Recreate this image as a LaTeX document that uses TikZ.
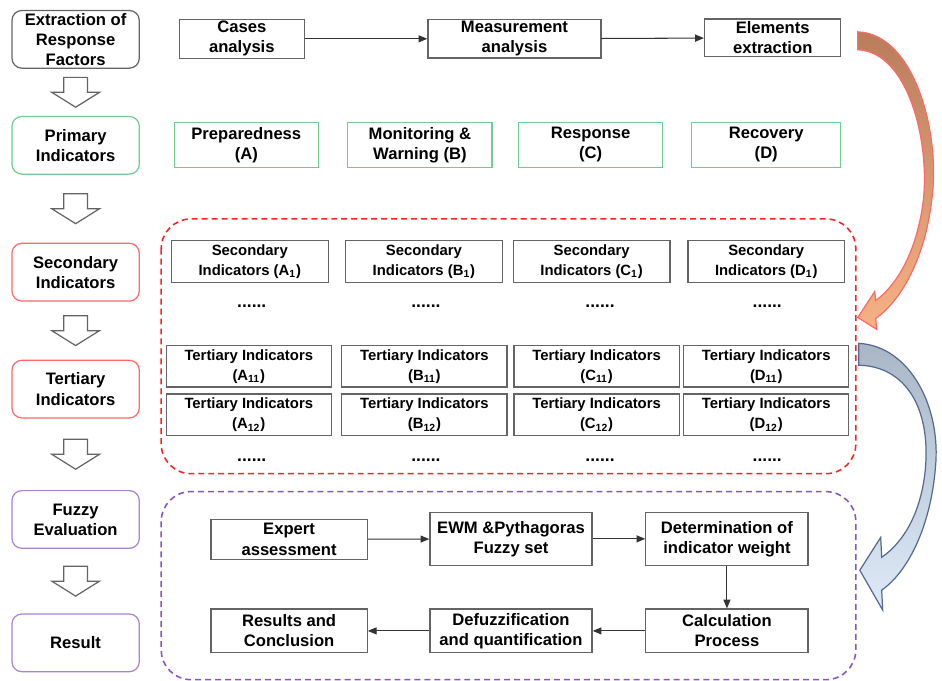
\documentclass[tikz,border=0pt]{standalone}
\usepackage{fontspec}
\setmainfont{Liberation Sans}
\usetikzlibrary{arrows.meta,positioning,calc}
\definecolor{framegray}{RGB}{100,100,100}
\definecolor{stagegreen}{RGB}{110,205,145}
\definecolor{stagered}{RGB}{255,105,105}
\definecolor{stagepurple}{RGB}{170,130,210}
\definecolor{dashred}{RGB}{250,35,35}
\definecolor{dashpurple}{RGB}{135,85,195}
\definecolor{brownarr}{RGB}{185,125,92}
\definecolor{orangearr}{RGB}{246,178,132}
\definecolor{slatearr}{RGB}{168,182,198}
\definecolor{skyarr}{RGB}{222,234,247}
\definecolor{slateline}{RGB}{85,105,145}

\begin{document}
\begin{tikzpicture}[
    x=0.02cm, y=-0.02cm,
    >={Triangle[length=5pt,width=4pt]},
    stage/.style={draw=#1, line width=0.7pt, rounded corners=0.2cm, fill=white, align=center, font=\fontsize{9.5}{11.5}\selectfont\bfseries, minimum width=2.56cm, minimum height=1.16cm, inner sep=1pt},
    box/.style={draw=framegray, line width=0.7pt, fill=white, align=center, font=\fontsize{9.5}{11.5}\selectfont\bfseries, inner sep=1pt},
    sbox/.style={box, font=\fontsize{8.5}{11.5}\selectfont\bfseries},
    pbox/.style={box, draw=stagegreen, minimum width=2.9cm, minimum height=0.9cm},
    dots/.style={font=\fontsize{10}{10}\selectfont\bfseries, inner sep=0pt},
    flow/.style={->, line width=0.6pt, black!80},
    hollow/.style={draw=framegray, line width=0.7pt, fill=white, line join=miter},
    region/.style={dashed, dash pattern=on 3.4pt off 2.3pt, line width=0.9pt, rounded corners=0.6cm}
]
    % Left column
    \node[stage=framegray] (extr) at (76,39.5) {Extraction of\\Response\\Factors};
    \node[stage=stagegreen] (prim) at (76,146) {Primary\\Indicators};
    \node[stage=stagered] (secd) at (76,273.5) {Secondary\\Indicators};
    \node[stage=stagered] (tert) at (76,391) {Tertiary\\Indicators};
    \node[stage=stagepurple] (fuzz) at (76,522) {Fuzzy\\Evaluation};
    \node[stage=stagepurple] (rslt) at (76,646) {Result};

    \foreach \a/\b in {extr/prim,prim/secd,secd/tert,tert/fuzz,fuzz/rslt}
        \draw[hollow] ($(\a.south)!0.5!(\b.north)$) ++(-12,-15) -- ++(24,0) -- ++(0,15) -- ++(12,0) -- ++(-24,15) -- ++(-24,-15) -- ++(12,0) -- cycle;

    % Extraction row
    \node[box, minimum width=2.52cm, minimum height=0.76cm] (cases) at (243,39) {Cases\\analysis};
    \node[box, minimum width=3.48cm, minimum height=0.76cm] (meas) at (517,39) {Measurement\\analysis};
    \node[box, minimum width=2.74cm, minimum height=0.76cm] (elem) at (776.5,38) {Elements\\extraction};
    \draw[flow] (cases) -- (meas);
    \draw[flow] (meas) -- (elem);

    % Primary indicators
    \node[pbox] (prep) at (247.5,145.5) {Preparedness\\(A)};
    \node[pbox] (moni) at (422,145.5) {Monitoring \&\\Warning (B)};
    \node[pbox] (resp) at (593.5,145.5) {Response\\(C)};
    \node[pbox, minimum width=3cm] (reco) at (770,145.5) {Recovery\\(D)};

    % Secondary and tertiary indicators
    \draw[region, draw=dashred] (162,220) rectangle (860,476);
    \foreach \c/\x/\xs/\xt in {A/251/253/250, B/426/428/426.5, C/594.5/603/599.5, D/770/771/770} {
        \node[sbox, minimum width=3.15cm, minimum height=0.84cm] (sec\c) at (\x,263) {Secondary\\Indicators (\c\textsubscript{1})};
        \node[dots] (dsec\c) at (\xs,308) {......};
        \node[sbox, minimum width=3.32cm, minimum height=0.84cm] (ter\c a) at (\xt,368) {Tertiary Indicators\\(\c\textsubscript{11})};
        \node[sbox, minimum width=3.32cm, minimum height=0.84cm] (ter\c b) at (\xt,417) {Tertiary Indicators\\(\c\textsubscript{12})};
        \node[dots] (dter\c) at (\xs,462) {......};
    }

    % Fuzzy evaluation
    \draw[region, draw=dashpurple] (162,494) rectangle (860,683);
    \node[box, minimum width=3.14cm, minimum height=0.8cm] (expert) at (290.5,542) {Expert\\assessment};
    \node[box, minimum width=3.26cm, minimum height=1.06cm] (ewm) at (513.5,541.5) {EWM \&Pythagoras\\Fuzzy set};
    \node[box, minimum width=3.26cm, minimum height=1.06cm] (weight) at (730.5,541.5) {Determination of\\indicator weight};
    \node[box, minimum width=3.26cm, minimum height=0.88cm] (calc) at (730.5,634) {Calculation\\Process};
    \node[box, minimum width=3.26cm, minimum height=0.88cm] (defuzz) at (513.5,634) {Defuzzification\\and quantification};
    \node[box, minimum width=3.14cm, minimum height=0.88cm] (concl) at (290.5,634) {Results and\\Conclusion};
    \draw[flow] (expert) -- (ewm);
    \draw[flow] (ewm) -- (weight);
    \draw[flow] (weight) -- (calc);
    \draw[flow] (calc) -- (defuzz);
    \draw[flow] (defuzz) -- (concl);

    % Curved block arrows
    \path[draw=stagered, line width=0.7pt, top color=brownarr, bottom color=orangearr]
        (862,32) .. controls (918,34) and (944,130) .. (937,195)
        .. controls (931,255) and (908,300) .. (880,320)
        -- (881,331) -- (862,319) -- (879,293) -- (880,302)
        .. controls (903,285) and (922,250) .. (928,200)
        .. controls (934,140) and (912,52) .. (862,50) -- cycle;
    \path[draw=slateline, line width=0.7pt, top color=slatearr, bottom color=skyarr]
        (863,345) .. controls (915,348) and (946,410) .. (940,470)
        .. controls (935,530) and (912,575) .. (886,593)
        -- (887,613) -- (864,573) -- (885,540) -- (886,560)
        .. controls (908,545) and (926,515) .. (930,470)
        .. controls (935,410) and (910,368) .. (863,367) -- cycle;

    \useasboundingbox (0,0) rectangle (942,684);
\end{tikzpicture}
\end{document}
